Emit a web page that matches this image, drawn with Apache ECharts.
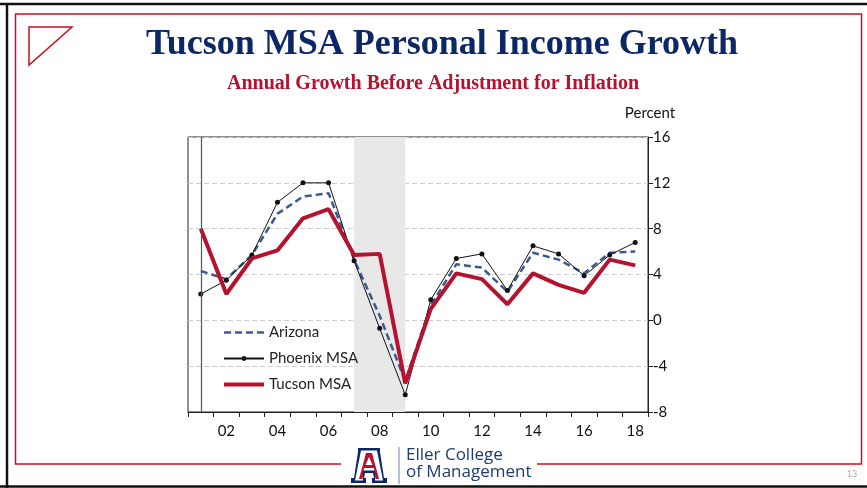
<!DOCTYPE html>
<html>
<head>
<meta charset="utf-8">
<script src="https://cdn.jsdelivr.net/npm/echarts@6/dist/echarts.min.js"></script>
<style>
  html, body { margin: 0; padding: 0; background: #fff; }
  #chart { width: 867px; height: 488px; }
</style>
</head>
<body>
<div id="chart"></div>
<script>
// yearly growth, percent
const years = ['2001','2002','2003','2004','2005','2006','2007','2008','2009',
               '2010','2011','2012','2013','2014','2015','2016','2017','2018'];
const arizona = [4.3, 3.6, 5.7, 9.3, 10.8, 11.1, 5.3, 0.4, -5.3, 1.3, 4.9, 4.6, 2.5, 5.9, 5.3, 4.1, 5.9, 6.0];
const phoenix = [2.3, 3.5, 5.7, 10.3, 12.0, 12.0, 5.2, -0.7, -6.5, 1.8, 5.4, 5.8, 2.6, 6.5, 5.8, 3.9, 5.7, 6.8];
const tucson = [8.0, 2.3, 5.4, 6.1, 8.9, 9.7, 5.7, 5.8, -5.5, 1.0, 4.1, 3.6, 1.4, 4.1, 3.1, 2.4, 5.3, 4.8];
const recession = ['2007', '2009'];
const markerYear = '2001';

const navy = '#0c2766';
const red = '#b4122e';
const frameRed = '#c8101e';
const sans = 'Lato';

let chart = echarts.init(document.getElementById('chart'));

let option = {
    backgroundColor: '#fff',
    animation: false,
    grid: {
        left: 188,
        right: 219,
        top: 137,
        bottom: 76,
        show: true,
        borderColor: '#222',
        borderWidth: 1,
        backgroundColor: 'transparent'
    },
    legend: {
        orient: 'vertical',
        left: 217,
        top: 320,
        itemWidth: 40,
        itemHeight: 6,
        itemGap: 11,
        textStyle: { fontFamily: sans, fontSize: 15, color: '#222' },
        data: [
            { name: 'Arizona', itemStyle: { opacity: 0 }, lineStyle: { width: 2.5 } },
            { name: 'Phoenix MSA' },
            { name: 'Tucson MSA', itemStyle: { opacity: 0 }, lineStyle: { width: 4 } }
        ]
    },
    xAxis: {
        type: 'category',
        data: years,
        boundaryGap: true,
        axisLine: { onZero: false, lineStyle: { color: '#222', width: 1 } },
        axisTick: { show: true, interval: 0, length: 5, lineStyle: { color: '#222' } },
        axisLabel: {
            interval: function (index, value) { return (+value) % 2 === 0; },
            formatter: function (v) { return v.slice(2); },
            fontFamily: sans,
            fontSize: 15,
            color: '#111',
            margin: 12
        },
        splitLine: { show: false }
    },
    yAxis: {
        type: 'value',
        position: 'right',
        min: -8,
        max: 16,
        interval: 4,
        axisLine: { show: true, lineStyle: { color: '#222', width: 1 } },
        axisTick: { show: true, length: 5, lineStyle: { color: '#222' } },
        axisLabel: { fontFamily: sans, fontSize: 15, color: '#111', margin: 5 },
        splitLine: { show: true, lineStyle: { color: '#cfcfcf', type: [5, 3], width: 1 } }
    },
    series: [
        {
            name: 'Arizona',
            type: 'line',
            data: arizona,
            symbol: 'none',
            lineStyle: { color: '#3d5a8e', width: 2.5, type: [7, 4] },
            itemStyle: { color: '#3d5a8e' },
            markArea: {
                silent: true,
                itemStyle: { color: '#e8e8e8' },
                data: [[{ xAxis: recession[0] }, { xAxis: recession[1] }]]
            },
            markLine: {
                silent: true,
                symbol: 'none',
                label: { show: false },
                lineStyle: { color: '#555', width: 1.2, type: 'solid' },
                data: [{ xAxis: markerYear }]
            },
            z: 2
        },
        {
            name: 'Phoenix MSA',
            type: 'line',
            data: phoenix,
            symbol: 'circle',
            symbolSize: 5,
            lineStyle: { color: '#111', width: 1 },
            itemStyle: { color: '#111' },
            z: 3
        },
        {
            name: 'Tucson MSA',
            type: 'line',
            data: tucson,
            symbol: 'none',
            lineStyle: { color: red, width: 4 },
            itemStyle: { color: red },
            z: 4
        }
    ],
    graphic: [
        // slide border
        { type: 'line', shape: { x1: 0, y1: 4, x2: 867, y2: 4 }, style: { stroke: '#111', lineWidth: 2.5 } },
        { type: 'line', shape: { x1: 7, y1: 3, x2: 7, y2: 488 }, style: { stroke: '#111', lineWidth: 2.5 } },
        { type: 'line', shape: { x1: 0, y1: 486.5, x2: 867, y2: 486.5 }, style: { stroke: '#111', lineWidth: 2.5 } },
        {
            type: 'polyline',
            shape: { points: [[341, 464], [15.5, 464], [15.5, 14], [861.5, 14], [861.5, 464], [537, 464]] },
            style: { stroke: frameRed, lineWidth: 1.5, fill: null }
        },
        {
            type: 'polygon',
            shape: { points: [[29, 27], [72, 27], [29, 65]] },
            style: { stroke: frameRed, lineWidth: 1.5, fill: null }
        },
        // titles
        {
            type: 'text', x: 442, y: 45,
            style: {
                text: 'Tucson MSA Personal Income Growth',
                fontFamily: 'Liberation Serif', fontWeight: 'bold', fontSize: 36,
                fill: navy, align: 'center', verticalAlign: 'middle'
            }
        },
        {
            type: 'text', x: 433, y: 84,
            style: {
                text: 'Annual Growth Before Adjustment for Inflation',
                fontFamily: 'Liberation Serif', fontWeight: 'bold', fontSize: 20,
                fill: red, align: 'center', verticalAlign: 'middle'
            }
        },
        {
            type: 'text', x: 650, y: 113,
            style: {
                text: 'Percent', fontFamily: sans, fontSize: 15, fill: '#111',
                align: 'center', verticalAlign: 'middle'
            }
        },
        // logo
        {
            type: 'polygon',
            shape: { points: [[358, 448], [380, 448], [380, 452], [384, 478], [387, 478], [387, 483],
                              [372, 483], [372, 478], [374, 478], [373, 473], [365, 473], [364, 478],
                              [366, 478], [366, 483], [351, 483], [351, 478], [354, 478], [358, 452]] },
            style: { fill: navy }
        },
        {
            type: 'polygon',
            shape: { points: [[361, 450.5], [377, 450.5], [383, 480.5], [375, 480.5], [375, 476], [376, 476],
                              [375, 470.5], [363, 470.5], [362, 476], [363, 476], [363, 480.5], [355, 480.5]] },
            style: { fill: '#fff' }
        },
        {
            type: 'polygon',
            shape: { points: [[366, 453], [372, 453], [379, 479], [375.5, 479], [374, 468], [364, 468],
                              [362.5, 479], [359, 479]] },
            style: { fill: red }
        },
        {
            type: 'polygon',
            shape: { points: [[369, 457], [372.5, 465], [365.5, 465]] },
            style: { fill: '#fff' }
        },
        { type: 'line', shape: { x1: 399, y1: 447, x2: 399, y2: 484 }, style: { stroke: '#6a7fa8', lineWidth: 1 } },
        {
            type: 'text', x: 406, y: 455,
            style: { text: 'Eller College', fontFamily: 'Open Sans', fontSize: 17, fill: '#1d3b72', verticalAlign: 'middle' }
        },
        {
            type: 'text', x: 406, y: 472,
            style: { text: 'of Management', fontFamily: 'Open Sans', fontSize: 17, fill: '#1d3b72', verticalAlign: 'middle' }
        },
        {
            type: 'text', x: 852, y: 474,
            style: { text: '13', fontFamily: sans, fontSize: 9, fill: '#aaa', align: 'center', verticalAlign: 'middle' }
        }
    ]
};

chart.setOption(option);
</script>
</body>
</html>
